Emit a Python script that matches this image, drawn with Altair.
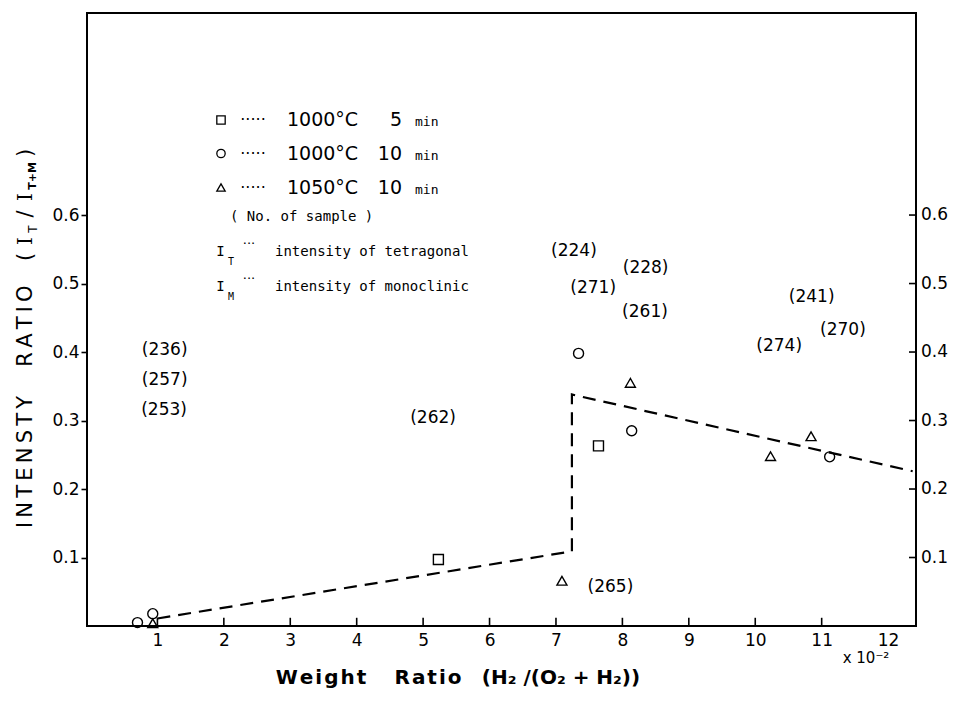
import altair as alt
import pandas as pd

# ---- measured points: group, weight ratio (x10^-2), intensity ratio I_T / I_T+M
point_group = ["c10", "c10", "t10", "s5", "c10", "t10", "c10", "s5", "t10", "t10", "t10", "c10"]
point_x = [0.70, 0.93, 0.93, 5.23, 7.34, 8.12, 8.14, 7.64, 7.09, 10.23, 10.84, 11.12]
point_y = [0.005, 0.018, 0.004, 0.097, 0.398, 0.355, 0.285, 0.263, 0.066, 0.248, 0.277, 0.247]

# ---- dashed trend line (with the jump near 7.2)
trend_x = [1.0, 7.24, 7.24, 12.37]
trend_y = [0.011, 0.109, 0.338, 0.226]

# ---- sample numbers
sample_text = ["(236)", "(257)", "(253)", "(262)", "(224)", "(228)",
               "(271)", "(261)", "(241)", "(270)", "(274)", "(265)"]
sample_x = [1.11, 1.11, 1.10, 5.15, 7.27, 8.35, 7.56, 8.34, 10.85, 11.32, 10.36, 7.82]
sample_y = [0.403, 0.359, 0.315, 0.304, 0.547, 0.523, 0.494, 0.459, 0.481, 0.432, 0.409, 0.057]

# ---- axis ticks
x_ticks = [1, 2, 3, 4, 5, 6, 7, 8, 9, 10, 11, 12]
x_tick_marks = [1, 2, 3, 4, 5, 6, 7, 8, 9, 10, 11]
y_ticks = [0.1, 0.2, 0.3, 0.4, 0.5, 0.6]

# ---- legend entries
legend_shape = ["square", "circle", "triangle-up"]
legend_temp = ["1000°C", "1000°C", "1050°C"]
legend_time = ["5", "10", "10"]

W, H = 829, 613
X_MIN, X_MAX = -0.06, 12.42
Y_MIN, Y_MAX = 0.0, 0.895
TICK_LEN = 0.012  # inward tick length on the bottom edge, in y units
XS = alt.Scale(domain=[X_MIN, X_MAX], nice=False, zero=False)
YS = alt.Scale(domain=[Y_MIN, Y_MAX], nice=False, zero=False)

SANS = "DejaVu Sans"
MONO = "DejaVu Sans Mono"
SERIF = "DejaVu Serif"

# the same axis definitions are repeated in every layer so they merge cleanly
AX = alt.Axis(
    values=x_ticks, format="d", ticks=False, domain=False, grid=False,
    title=None, labelFont=SANS, labelFontSize=17, labelColor="black",
    labelPadding=6, labelFlush=False)
AY = alt.Axis(
    values=y_ticks, format=".1f", tickSize=6, tickColor="black",
    tickWidth=1.6, domain=False, grid=False, title=None,
    labelFont=SANS, labelFontSize=17, labelColor="black",
    labelPadding=2, labelFlush=False)


def xq(field):
    return alt.X(field, type="quantitative", scale=XS, axis=AX)


def yq(field):
    return alt.Y(field, type="quantitative", scale=YS, axis=AY)


points_df = pd.DataFrame({"x": point_x, "y": point_y, "g": point_group})
trend_df = pd.DataFrame({"x": trend_x, "y": trend_y, "o": list(range(len(trend_x)))})
sample_df = pd.DataFrame({"x": sample_x, "y": sample_y, "t": sample_text})

trend = alt.Chart(trend_df).mark_line(
    color="black", strokeWidth=2.2, strokeDash=[13, 8]
).encode(x=xq("x"), y=yq("y"), order="o:Q")

points = alt.Chart(points_df).mark_point(
    filled=False, color="black", strokeWidth=1.4, size=100, opacity=1
).encode(
    x=xq("x"),
    y=yq("y"),
    shape=alt.Shape("g:N", scale=alt.Scale(
        domain=["s5", "c10", "t10"], range=["square", "circle", "triangle-up"]),
        legend=None),
)

samples = alt.Chart(sample_df).mark_text(
    font=SANS, fontSize=17, color="black", baseline="middle", align="center"
).encode(x=xq("x"), y=yq("y"), text="t:N")

# inward ticks on the bottom edge of the frame
bottom_ticks = alt.Chart(pd.DataFrame({"xt": x_tick_marks})).transform_calculate(
    lo="0", hi=str(TICK_LEN)
).mark_rule(color="black", strokeWidth=1.6).encode(
    x=xq("xt:Q"),
    y=yq("lo:Q"),
    y2=alt.Y2("hi:Q"),
)

# inward ticks and labels on the right edge of the frame
right_ticks = alt.Chart(pd.DataFrame({"t": y_ticks})).mark_rule(
    color="black", strokeWidth=1.6
).encode(
    y=yq("t"),
    x=alt.value(W - 7),
    x2=alt.value(W),
)

right_labels = alt.Chart(pd.DataFrame({"t": y_ticks})).mark_text(
    font=SANS, fontSize=17, color="black", align="left", baseline="middle", dx=5
).encode(
    y=yq("t"),
    x=alt.value(W),
    text=alt.Text("t:Q", format=".1f"),
)


def note(text, x, y, **kw):
    style = dict(color="black", baseline="middle")
    style.update(kw)
    return alt.Chart(pd.DataFrame({"t": [text]})).mark_text(**style).encode(
        x=alt.value(x), y=alt.value(y), text="t:N"
    )


def symbol(shape, x, y):
    return alt.Chart(pd.DataFrame({"t": [shape]})).mark_point(
        shape=shape, filled=False, color="black", strokeWidth=1.3, size=70, opacity=1
    ).encode(x=alt.value(x), y=alt.value(y))


# ---- legend block
legend_layers = []
row_y = [107, 140.5, 174.5]
for i in range(3):
    yy = row_y[i]
    legend_layers += [
        symbol(legend_shape[i], 134, yy),
        note("·····", 166, yy, font=SANS, fontSize=16, align="center"),
        note(legend_temp[i], 200, yy, font=SANS, fontSize=19, align="left"),
        note(legend_time[i], 315, yy, font=SANS, fontSize=19, align="right"),
        note("min", 328, yy + 2, font=MONO, fontSize=13, align="left"),
    ]
legend_layers += [
    note("( No. of sample )", 143, 203.7, font=MONO, fontSize=14, align="left"),
    note("I", 133.5, 239, font=MONO, fontSize=14, align="center"),
    note("T", 144, 248.7, font=MONO, fontSize=10, align="center"),
    note("···", 162, 231, font=SANS, fontSize=13, align="center"),
    note("intensity of tetragonal", 188, 239, font=MONO, fontSize=14, align="left"),
    note("I", 133.5, 273.7, font=MONO, fontSize=14, align="center"),
    note("M", 144, 283.7, font=MONO, fontSize=10, align="center"),
    note("···", 162, 266, font=SANS, fontSize=13, align="center"),
    note("intensity of monoclinic", 188, 273.7, font=MONO, fontSize=14, align="left"),
]

# ---- axis titles
THIN = "\u2009"
HAIR = "\u200a"
y_title = [
    note(THIN.join("INTENSTY"), -61, 449, font=SANS, fontSize=21, angle=270, align="center"),
    note(THIN.join("RATIO"), -61, 313, font=SANS, fontSize=21, angle=270, align="center"),
    note("(", -61, 244, font=SANS, fontSize=21, angle=270, align="center"),
    note("I", -61, 228, font=SERIF, fontSize=20, angle=270, align="center"),
    note("T", -54, 216, font=SANS, fontSize=12, angle=270, align="center"),
    note("/", -61, 201, font=SANS, fontSize=21, angle=270, align="center"),
    note("I", -61, 184, font=SERIF, fontSize=20, angle=270, align="center"),
    note("T+M", -54, 163, font=SANS, fontSize=11, angle=270, align="center", fontWeight="bold"),
    note(")", -61, 140, font=SANS, fontSize=21, angle=270, align="center"),
]
x_title = [
    note(HAIR.join("Weight"), 234, 665, font=SANS, fontSize=20, fontWeight="bold", align="center"),
    note(HAIR.join("Ratio"), 341, 665, font=SANS, fontSize=20, fontWeight="bold", align="center"),
    note("(H₂ /(O₂ + H₂))", 474, 665, font=SANS, fontSize=20, fontWeight="bold", align="center"),
    note("x 10⁻²", 779, 645, font=SANS, fontSize=15, align="center"),
]

chart = alt.layer(
    trend, points, samples, right_ticks, right_labels,
    *legend_layers, *y_title, *x_title, bottom_ticks
).properties(
    width=W,
    height=H,
    autosize=alt.AutoSizeParams(type="none"),
    padding={"left": 87, "top": 13, "right": 42, "bottom": 75},
    background="white",
).configure_view(
    stroke="black", strokeWidth=2
)

chart.save("out.html", embed_options={"renderer": "svg", "actions": False})
